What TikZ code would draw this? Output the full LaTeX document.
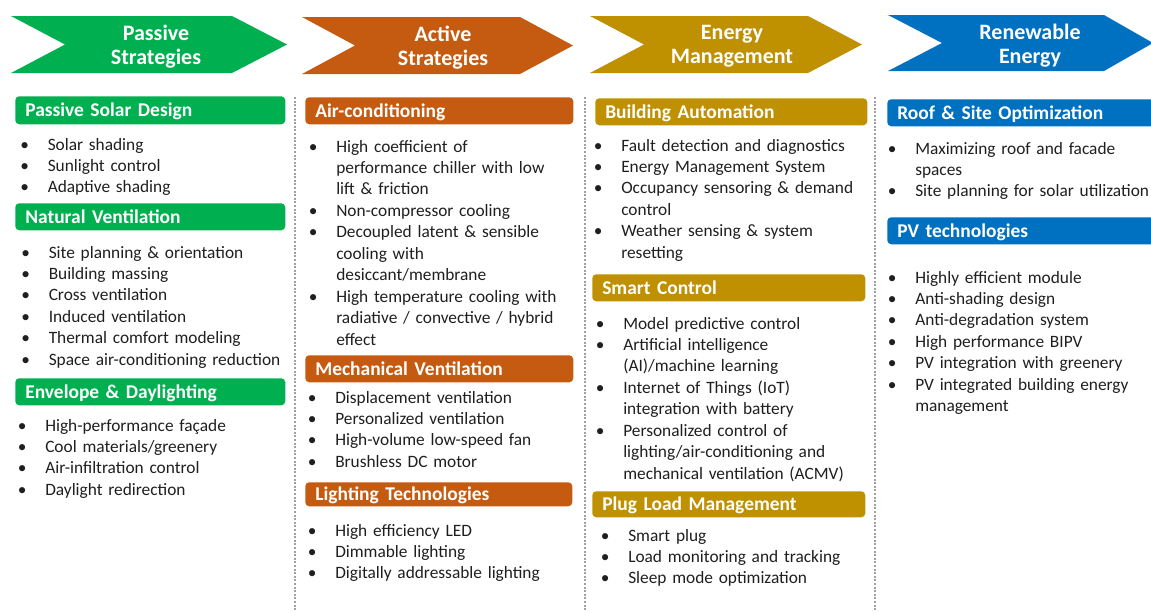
\documentclass[tikz,border=0pt]{standalone}
\usepackage{fontspec}
\setmainfont{Carlito}
\definecolor{cgreen}{HTML}{00B050}
\definecolor{corange}{HTML}{C55A11}
\definecolor{cgold}{HTML}{BF9000}
\definecolor{cblue}{HTML}{0070C0}
\definecolor{ctext}{HTML}{1F1F1F}
\definecolor{csep}{HTML}{A0A0A0}
\newcommand{\mybody}{\fontsize{13pt}{16.1pt}\selectfont}
\newcommand{\myhdr}{\fontsize{14.6pt}{18pt}\selectfont\bfseries}
\newcommand{\mychev}{\fontsize{16.5pt}{18pt}\selectfont\bfseries}
\newcommand{\bitem}[1]{\noindent\hangindent=17.25pt\hangafter=1\makebox[17.25pt][l]{\makebox[0pt][c]{\textbullet}}#1\par}
\tikzset{
  hdr/.style={fill=#1, rounded corners=3pt, anchor=north west, inner xsep=7.5pt,
    inner ysep=0pt, minimum height=20.25pt, text height=11.8pt, text depth=2.3pt,
    align=left, font=\myhdr, text=white},
  lst/.style={anchor=base west, inner sep=0pt, text width=225pt, align=left,
    font=\mybody, text=ctext},
  chev/.style={align=center, font=\mychev, text=white, inner sep=0pt},
  sepline/.style={draw=csep, line width=0.8pt, dash pattern=on 1.5pt off 1.2pt}
}
\begin{document}
\begin{tikzpicture}[x=0.75pt,y=-0.75pt]
\path[use as bounding box, clip] (0,0) rectangle (1151,611);
\fill[white] (0,0) rectangle (1151,611);

% chevrons
\fill[cgreen]  (11,16) -- (232,16) -- (287,44.5) -- (232,73) -- (11,73) -- (65,44.5) -- cycle;
\fill[corange] (302,17) -- (520,17) -- (573,45.5) -- (520,74) -- (302,74) -- (355,45.5) -- cycle;
\fill[cgold]   (590,16) -- (808,16) -- (862,44.5) -- (808,73) -- (590,73) -- (644,44.5) -- cycle;
\fill[cblue]   (888,15) -- (1104,15) -- (1153,43) -- (1104,71) -- (888,71) -- (942,43) -- cycle;
\node[chev] (c1) at (156,47) {Passive\\Strategies};
\node[chev] (c2) at (443,48) {Active\\Strategies};
\node[chev] (c3) at (732,46) {Energy\\Management};
\node[chev] (c4) at (1030,45.5) {Renewable\\Energy};

% separators
\coordinate (s1t) at (295,97);  \coordinate (s1b) at (295,611);
\coordinate (s2t) at (585,97);  \coordinate (s2b) at (585,611);
\coordinate (s3t) at (875,97);  \coordinate (s3b) at (875,611);
\draw[sepline] (s1t) -- (s1b);
\draw[sepline] (s2t) -- (s2b);
\draw[sepline] (s3t) -- (s3b);

% column 1
\node[hdr=cgreen, text width=187.5pt, minimum height=21pt] (h11) at (15,96) {Passive Solar Design};
\node[lst] (l11) at (24.5,150) {\bitem{Solar shading}\bitem{Sunlight control}\bitem{Adaptive shading}};
\node[hdr=cgreen, text width=187.5pt] (h12) at (15,203) {Natural Ventilation};
\node[lst] (l12) at (25.5,258) {\bitem{Site planning \& orientation}\bitem{Building massing}\bitem{Cross ventilation}\bitem{Induced ventilation}\bitem{Thermal comfort modeling}\bitem{Space air-conditioning reduction}};
\node[hdr=cgreen, text width=187.5pt] (h13) at (15,378) {Envelope \& Daylighting};
\node[lst] (l13) at (22,431) {\bitem{High-performance façade}\bitem{Cool materials/greenery}\bitem{Air-infiltration control}\bitem{Daylight redirection}};

% column 2
\node[hdr=corange, text width=186pt] (h21) at (305,97) {Air-conditioning};
\node[lst] (l21) at (313,152) {\bitem{High coefficient of\newline performance chiller with low\newline lift \& friction}\bitem{Non-compressor cooling}\bitem{Decoupled latent \& sensible\newline cooling with\newline desiccant/membrane}\bitem{High temperature cooling with\newline radiative / convective / hybrid\newline effect}};
\node[hdr=corange, text width=186pt] (h22) at (305,355) {Mechanical Ventilation};
\node[lst] (l22) at (312,403) {\bitem{Displacement ventilation}\bitem{Personalized ventilation}\bitem{High-volume low-speed fan}\bitem{Brushless DC motor}};
\node[hdr=corange, text width=185.25pt, minimum height=18pt] (h23) at (305,482) {Lighting Technologies};
\node[lst] (l23) at (312,536) {\bitem{High efficiency LED}\bitem{Dimmable lighting}\bitem{Digitally addressable lighting}};

% column 3
\node[hdr=cgold, text width=189pt] (h31) at (595,98) {Building Automation};
\node[lst] (l31) at (598,151) {\bitem{Fault detection and diagnostics}\bitem{Energy Management System}\bitem{Occupancy sensoring \& demand\newline control}\bitem{Weather sensing \& system\newline resetting}};
\node[hdr=cgold, text width=189.75pt] (h32) at (592,274) {Smart Control};
\node[lst] (l32) at (600,329) {\bitem{Model predictive control}\bitem{Artificial intelligence\newline (AI)/machine learning}\bitem{Internet of Things (IoT)\newline integration with battery}\bitem{Personalized control of\newline lighting/air-conditioning and\newline mechanical ventilation (ACMV)}};
\node[hdr=cgold, text width=189.75pt, minimum height=19.5pt] (h33) at (592,491) {Plug Load Management};
\node[lst] (l33) at (605,541) {\bitem{Smart plug}\bitem{Load monitoring and tracking}\bitem{Sleep mode optimization}};

% column 4
\node[hdr=cblue, text width=195pt] (h41) at (887,99) {Roof \& Site Optimization};
\node[lst] (l41) at (892,154) {\bitem{Maximizing roof and facade\newline spaces}\bitem{Site planning for solar utilization}};
\node[hdr=cblue, text width=195pt] (h42) at (887,217) {PV technologies};
\node[lst] (l42) at (892,283) {\bitem{Highly efficient module}\bitem{Anti-shading design}\bitem{Anti-degradation system}\bitem{High performance BIPV}\bitem{PV integration with greenery}\bitem{PV integrated building energy\newline management}};
\end{tikzpicture}
\end{document}
